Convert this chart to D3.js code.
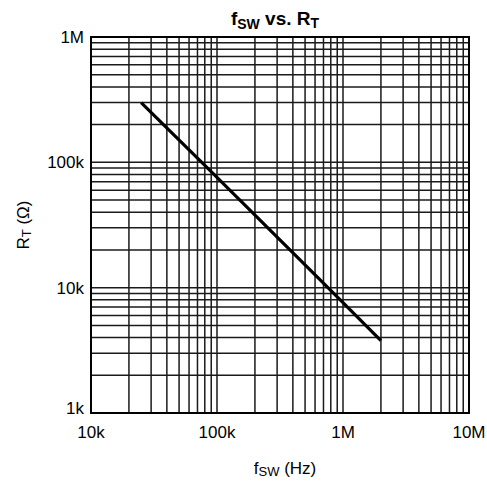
<!DOCTYPE html>
<html>
<head>
<meta charset="utf-8">
<script src="https://cdn.jsdelivr.net/npm/d3@7"></script>
<style>
  body { margin: 0; background: #fff; }
  text { font-family: "Liberation Sans", Arial, sans-serif; fill: #000; }
</style>
</head>
<body>
<svg id="chart"></svg>
<script>
// f_SW (Hz) vs R_T (ohm)
const freqHz = [25000, 100000, 500000, 1000000, 2000000];
const rtOhm = [300000, 76000, 15200, 7600, 3780];
const xTickValues = [1e4, 1e5, 1e6, 1e7];
const xTickLabels = ["10k", "100k", "1M", "10M"];
const yTickValues = [1e3, 1e4, 1e5, 1e6];
const yTickLabels = ["1k", "10k", "100k", "1M"];

const width = 487, height = 481;
const margin = { top: 37, right: 18, bottom: 68, left: 91 };
const plotW = width - margin.left - margin.right;
const plotH = height - margin.top - margin.bottom;

const svg = d3.select("#chart").attr("width", width).attr("height", height);
const g = svg.append("g").attr("transform", `translate(${margin.left},${margin.top})`);

const x = d3.scaleLog().domain([1e4, 1e7]).range([0, plotW]);
const y = d3.scaleLog().domain([1e3, 1e6]).range([plotH, 0]);

// grid
g.append("g").selectAll("line").data(x.ticks())
  .join("line")
  .attr("x1", d => x(d)).attr("x2", d => x(d))
  .attr("y1", 0).attr("y2", plotH)
  .attr("stroke", "#1a1a1a").attr("stroke-width", 1.5);

g.append("g").selectAll("line").data(y.ticks())
  .join("line")
  .attr("y1", d => y(d)).attr("y2", d => y(d))
  .attr("x1", 0).attr("x2", plotW)
  .attr("stroke", "#1a1a1a").attr("stroke-width", 1.5);

g.append("rect")
  .attr("width", plotW).attr("height", plotH)
  .attr("fill", "none").attr("stroke", "#000").attr("stroke-width", 2);

// data line
const line = d3.line().x((d, i) => x(freqHz[i])).y(d => y(d));
g.append("path").datum(rtOhm)
  .attr("d", line)
  .attr("fill", "none").attr("stroke", "#000").attr("stroke-width", 3.2);

// tick labels
g.append("g").selectAll("text").data(xTickValues)
  .join("text")
  .attr("x", d => x(d)).attr("y", plotH + 25)
  .attr("text-anchor", "middle").attr("font-size", 17)
  .text((d, i) => xTickLabels[i]);

g.append("g").selectAll("text").data(yTickValues)
  .join("text")
  .attr("x", -7).attr("y", d => y(d))
  .attr("dy", (d, i) => i === 0 ? "0.05em" : "0.35em")
  .attr("text-anchor", "end").attr("font-size", 17)
  .text((d, i) => yTickLabels[i]);

// title
const title = svg.append("text")
  .attr("x", 275).attr("y", 25)
  .attr("text-anchor", "middle").attr("font-size", 19).attr("font-weight", "bold");
title.append("tspan").text("f");
title.append("tspan").attr("font-size", 14).attr("dy", 4).text("SW");
title.append("tspan").attr("dy", -4).text(" vs. R");
title.append("tspan").attr("font-size", 14).attr("dy", 3).text("T");

// x label
const xl = svg.append("text")
  .attr("x", 285).attr("y", 474)
  .attr("text-anchor", "middle").attr("font-size", 17);
xl.append("tspan").text("f");
xl.append("tspan").attr("font-size", 13).attr("dy", 2).text("SW");
xl.append("tspan").attr("dy", -2).text(" (Hz)");

// y label
const yl = svg.append("text")
  .attr("transform", `translate(29,${margin.top + plotH / 2}) rotate(-90)`)
  .attr("text-anchor", "middle").attr("font-size", 17);
yl.append("tspan").text("R");
yl.append("tspan").attr("font-size", 13).attr("dy", 2).text("T");
yl.append("tspan").attr("dy", -2).text(" (\u03A9)");
</script>
</body>
</html>
